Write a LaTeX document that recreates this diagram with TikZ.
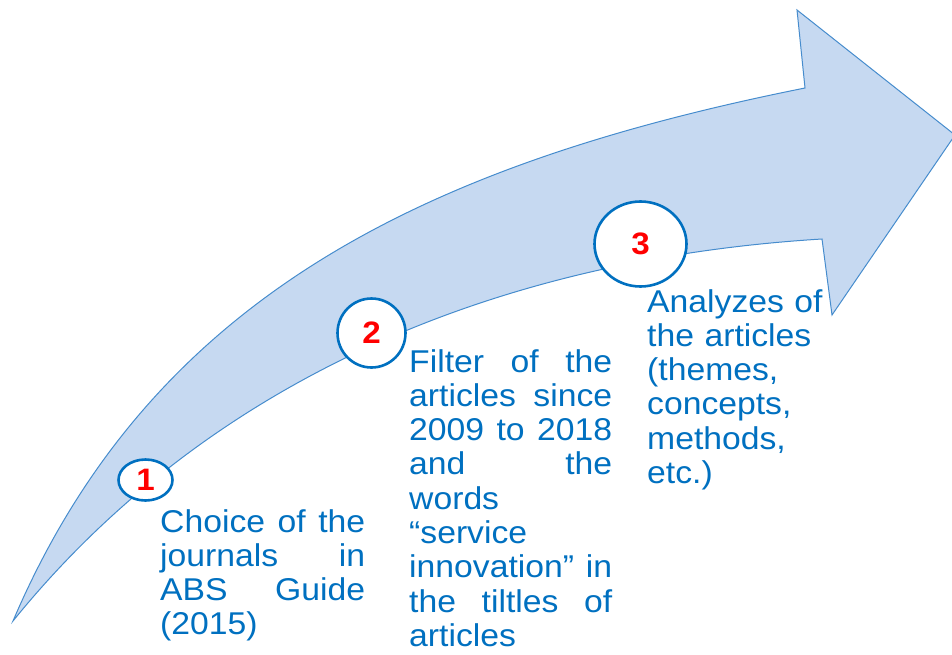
\documentclass[tikz,border=0pt]{standalone}
\usepackage{fontspec}
\setmainfont{Liberation Sans}[FakeStretch=1.07]
\usetikzlibrary{shapes.geometric}
\definecolor{arrowfill}{RGB}{198,217,241}
\definecolor{arrowline}{RGB}{70,140,205}
\definecolor{txtblue}{RGB}{0,112,192}
\definecolor{numred}{RGB}{255,0,0}
\tikzset{
  numcirc/.style={ellipse, draw=txtblue, line width=2.6pt, fill=white, inner sep=0pt,
    text=numred, font=\fontsize{31}{31}\selectfont\bfseries},
  stepnote/.style={anchor=base west, inner sep=0pt, text=txtblue,
    font=\fontsize{31.5}{34.3}\selectfont, align=left}
}
\begin{document}
\begin{tikzpicture}[x=1pt,y=-1pt]
\useasboundingbox (0,0) rectangle (952,655);
\draw[arrowline, fill=arrowfill, line width=1pt, line join=miter]
  (13,621) .. controls (150,300) and (420,165) .. (805,88)
  -- (797,10) -- (955,135) -- (832,315) -- (822,239)
  .. controls (480,260) and (200,390) .. (13,621) -- cycle;
\node[numcirc, minimum width=54pt, minimum height=41pt] (c1) at (145.5,480) {1};
\node[numcirc, minimum width=68pt, minimum height=69pt] (c2) at (371.5,333) {2};
\node[numcirc, minimum width=92pt, minimum height=85pt] (c3) at (640.5,244) {3};
\node[stepnote, text width=205pt] (t1) at (160,532)
  {Choice\hfill of\hfill the\\journals\hfill in\\ABS\hfill Guide\\(2015)};
\node[stepnote, text width=203pt] (t2) at (409,372)
  {Filter\hfill of\hfill the\\articles\hfill since\\2009\hfill to\hfill 2018\\and\hfill the\\words\\“service\\innovation”\hfill in\\the\hfill tiltles\hfill of\\articles};
\node[stepnote, text width=176pt] (t3) at (647,312)
  {Analyzes of\\the articles\\(themes,\\concepts,\\methods,\\etc.)};
\end{tikzpicture}
\end{document}
